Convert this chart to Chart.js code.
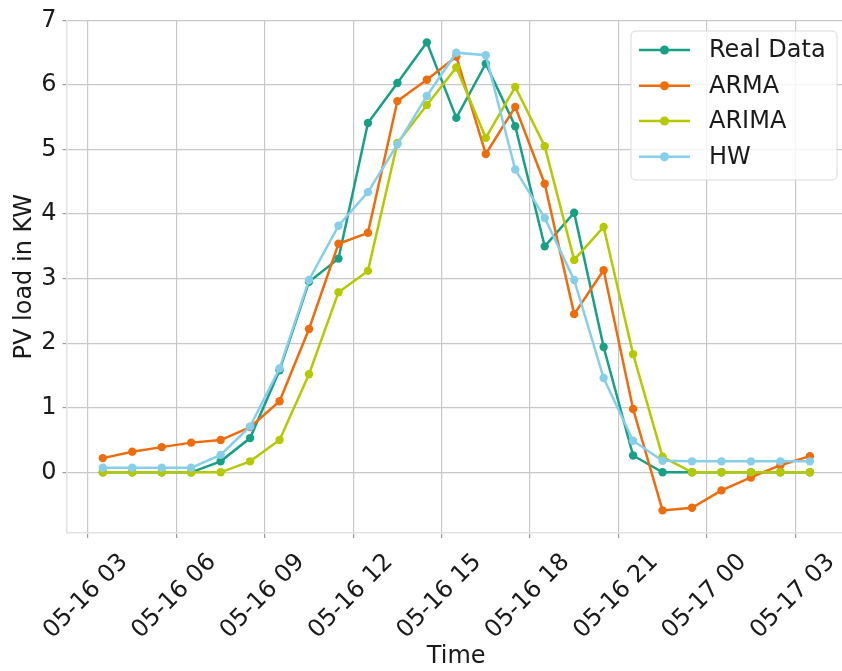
<!DOCTYPE html>
<html>
<head>
<meta charset="utf-8">
<script src="https://cdn.jsdelivr.net/npm/chart.js@4/dist/chart.umd.min.js"></script>
<style>
html,body{margin:0;padding:0;background:#fff;overflow:hidden;}
#wrap{position:absolute;left:0;top:0;width:850px;height:671px;}
</style>
</head>
<body>
<div id="wrap"><canvas id="c" width="850" height="671"></canvas></div>
<script>
// ---- data (hours since 05-16 00:00) ----
const timeHours = [3.5,4.5,5.5,6.5,7.5,8.5,9.5,10.5,11.5,12.5,13.5,14.5,15.5,16.5,17.5,18.5,19.5,20.5,21.5,22.5,23.5,24.5,25.5,26.5,27.5];
const realData = [0,0,0,0,0.17,0.53,1.58,2.95,3.31,5.41,6.03,6.66,5.49,6.33,5.36,3.50,4.02,1.94,0.26,0,0,0,0,0,0];
const armaData = [0.22,0.32,0.39,0.46,0.50,0.70,1.10,2.22,3.54,3.71,5.75,6.08,6.44,4.93,5.66,4.47,2.45,3.13,0.98,-0.59,-0.55,-0.28,-0.08,0.11,0.25];
const arimaData = [0,0,0,0,0,0.17,0.50,1.52,2.79,3.12,5.10,5.69,6.27,5.18,5.97,5.05,3.29,3.80,1.83,0.24,0,0,0,0,0];
const hwData = [0.07,0.07,0.07,0.07,0.27,0.71,1.61,2.98,3.82,4.34,5.08,5.83,6.50,6.46,4.69,3.94,2.98,1.46,0.49,0.18,0.17,0.17,0.17,0.17,0.17];
const seriesNames = ['Real Data','ARMA','ARIMA','HW'];
const xTickValues = [3,6,9,12,15,18,21,24,27];
const xTickLabels = ['05-16 03','05-16 06','05-16 09','05-16 12','05-16 15','05-16 18','05-16 21','05-17 00','05-17 03'];
const yTickValues = [0,1,2,3,4,5,6,7];

const colors = ['#17a085','#ef6c0c','#b4c900','#87ceeb'];
const FONT = 'DejaVu Sans';

function mk(name, data, color, order){
  return {
    label: name,
    data: data.map((v,i)=>({x: timeHours[i], y: v})),
    borderColor: color, backgroundColor: color,
    pointBackgroundColor: color, pointBorderColor: color,
    borderWidth: 2.5, pointRadius: 4.2, pointBorderWidth: 0,
    pointHoverRadius: 4.2, tension: 0, order: order
  };
}
const datasets = [
  mk(seriesNames[0], realData, colors[0], 3),
  mk(seriesNames[1], armaData, colors[1], 2),
  mk(seriesNames[2], arimaData, colors[2], 1),
  mk(seriesNames[3], hwData, colors[3], 0)
];

const legendPlugin = {
  id: 'mplLegend',
  afterDraw(chart){
    const ctx = chart.ctx;
    ctx.save();
    const x0=631, y0=31, w=206, h=149, r=5;
    ctx.beginPath();
    ctx.moveTo(x0+r,y0); ctx.lineTo(x0+w-r,y0); ctx.quadraticCurveTo(x0+w,y0,x0+w,y0+r);
    ctx.lineTo(x0+w,y0+h-r); ctx.quadraticCurveTo(x0+w,y0+h,x0+w-r,y0+h);
    ctx.lineTo(x0+r,y0+h); ctx.quadraticCurveTo(x0,y0+h,x0,y0+h-r);
    ctx.lineTo(x0,y0+r); ctx.quadraticCurveTo(x0,y0,x0+r,y0);
    ctx.closePath();
    ctx.fillStyle='rgba(255,255,255,0.8)'; ctx.fill();
    ctx.strokeStyle='#dadada'; ctx.lineWidth=1; ctx.stroke();
    const rows=[50,85.7,121,156.7];
    chart.data.datasets.forEach((ds,i)=>{
      const y=rows[i];
      ctx.strokeStyle=ds.borderColor; ctx.lineWidth=2.5;
      ctx.beginPath(); ctx.moveTo(639,y); ctx.lineTo(690,y); ctx.stroke();
      ctx.fillStyle=ds.borderColor;
      ctx.beginPath(); ctx.arc(664.5,y,4.5,0,Math.PI*2); ctx.fill();
      ctx.fillStyle='#1a1a1a'; ctx.font='24px "'+FONT+'"';
      ctx.textAlign='left'; ctx.textBaseline='middle';
      ctx.fillText(ds.label,709,y+1);
    });
    ctx.restore();
  }
};

new Chart(document.getElementById('c'), {
  type: 'line',
  data: { datasets },
  options: {
    responsive: false, animation: false, devicePixelRatio: 1,
    layout: { padding: { top: 19, right: 2, left: 0, bottom: 0 } },
    plugins: { legend: { display: false }, tooltip: { enabled: false } },
    scales: {
      x: {
        type: 'linear', min: 2.27, max: 28.72,
        afterBuildTicks: s => { s.ticks = xTickValues.map(v=>({value:v})); },
        afterFit: s => { s.height = 138; },
        ticks: {
          callback: (v) => xTickLabels[xTickValues.indexOf(v)],
          minRotation: 45, maxRotation: 45, autoSkip: false,
          labelOffset: 36, padding: 10,
          font: { family: FONT, size: 24 }, color: '#1a1a1a'
        },
        grid: { color: '#c8c8c8', lineWidth: 1.2, tickLength: 5, tickColor: '#9a9a9a', drawTicks: true },
        border: { color: '#e2e2e2', width: 1.5 },
        title: { display: true, text: 'Time', font: { family: FONT, size: 24 }, color: '#1a1a1a', padding: { top: 0, bottom: 0 } }
      },
      y: {
        type: 'linear', min: -0.94, max: 7,
        afterBuildTicks: s => { s.ticks = yTickValues.map(v=>({value:v})); },
        afterFit: s => { s.width = 64; },
        ticks: { font: { family: FONT, size: 24 }, color: '#1a1a1a', padding: 6 },
        grid: { color: '#c8c8c8', lineWidth: 1.2, tickLength: 4, tickColor: '#9a9a9a', drawTicks: true },
        border: { color: '#e2e2e2', width: 1.5 },
        title: { display: true, text: 'PV load in KW', font: { family: FONT, size: 24 }, color: '#1a1a1a', padding: { top: 8, bottom: 0 } }
      }
    }
  },
  plugins: [legendPlugin]
});
</script>
</body>
</html>
